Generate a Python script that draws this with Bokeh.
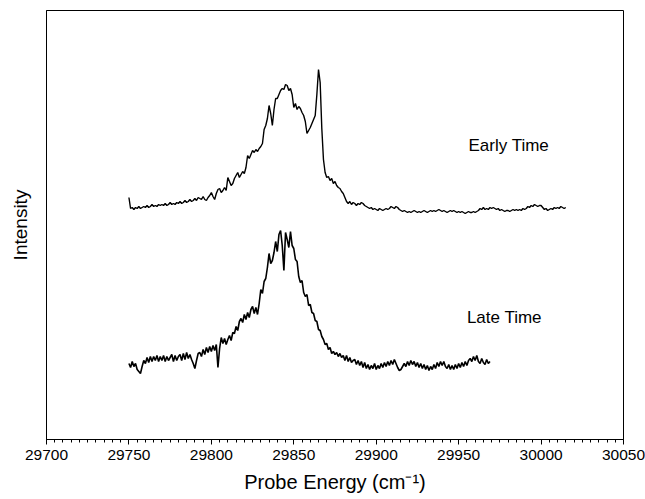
import numpy as np
from bokeh.plotting import figure
from bokeh.models import Range1d, FixedTicker, Label
from bokeh.embed import file_html
from bokeh.resources import INLINE

early_x_start, early_step = 29750, 1
late_x_start, late_step = 29750, 1

early_intensity = [
    242, 231, 232, 230, 232, 231, 233, 231, 232, 233,
    232, 234, 232, 233, 235, 233, 234, 233, 235, 234,
    235, 234, 236, 234, 235, 237, 235, 236, 235, 237,
    236, 238, 236, 237, 239, 237, 238, 240, 238, 239,
    241, 239, 242, 241, 240, 243, 240, 239, 242, 244,
    247, 243, 240, 246, 250, 251, 247, 249, 252, 249,
    262, 258, 254, 256, 261, 264, 267, 262, 265, 268,
    266, 272, 284, 281, 285, 289, 287, 290, 288, 291,
    293, 296, 310, 314, 321, 334, 326, 314, 330, 341,
    341, 345, 349, 351, 350, 355, 354, 349, 351, 345,
    332, 336, 330, 333, 331, 327, 324, 318, 306, 309,
    312, 316, 320, 324, 345, 370, 357, 311, 280, 267,
    262, 263, 259, 261, 256, 258, 254, 252, 251, 248,
    246, 242, 238, 236, 238, 235, 237, 236, 234, 236,
    235, 237, 236, 234, 233, 232, 231, 232, 230, 231,
    230, 229, 231, 230, 229, 230, 231, 230, 231, 233,
    232, 231, 233, 232, 230, 229, 228, 229, 228, 227,
    228, 227, 228, 229, 228, 227, 228, 227, 228, 229,
    228, 227, 228, 229, 228, 229, 228, 229, 230, 229,
    228, 229, 228, 227, 228, 229, 228, 229, 228, 227,
    228, 227, 228, 227, 226, 227, 228, 227, 227, 228,
    227, 228, 229, 231, 230, 232, 230, 231, 230, 232,
    231, 232, 231, 230, 231, 229, 230, 229, 228, 229,
    229, 228, 229, 230, 229, 230, 229, 230, 229, 231,
    230, 231, 233, 232, 234, 233, 235, 234, 233, 234,
    234, 232, 230, 231, 229, 230, 231, 230, 232, 231,
    232, 231, 233, 232, 231, 232,
]

late_intensity = [
    76, 72, 78, 73, 76, 70, 68, 66, 73, 79,
    76, 82, 77, 83, 78, 83, 79, 84, 78, 83,
    79, 84, 78, 83, 79, 82, 85, 78, 84, 79,
    83, 85, 79, 86, 80, 87, 81, 85, 80, 76,
    71, 79, 86, 87, 83, 90, 85, 92, 87, 93,
    88, 94, 89, 95, 72, 91, 102, 96, 101, 95,
    100, 104, 99, 107, 106, 113, 109, 118, 121, 117,
    125, 120, 127, 122, 130, 133, 126, 132, 125, 136,
    150, 146, 158, 161, 172, 186, 176, 179, 187, 198,
    188, 205, 209, 194, 169, 207, 200, 192, 208, 194,
    191, 180, 178, 163, 157, 159, 147, 143, 145, 134,
    135, 127, 126, 119, 118, 110, 109, 103, 100, 95,
    96, 90, 92, 86, 88, 85, 87, 83, 86, 82,
    84, 79, 84, 78, 82, 77, 79, 80, 75, 79,
    74, 78, 72, 77, 71, 75, 70, 74, 71, 76,
    70, 74, 71, 76, 72, 77, 73, 78, 74, 79,
    75, 80, 76, 72, 69, 70, 73, 76, 73, 78,
    74, 79, 75, 78, 73, 77, 72, 76, 71, 75,
    70, 74, 69, 73, 70, 75, 71, 77, 73, 78,
    74, 78, 73, 71, 75, 70, 74, 70, 75, 71,
    76, 72, 77, 73, 78, 74, 79, 81, 78, 83,
    79, 84, 78, 76, 81, 77, 75, 80, 76, 78,
]

x_ticks = [29700, 29750, 29800, 29850, 29900, 29950, 30000, 30050]
series_labels = ["Early Time", "Late Time"]
label_x = [29956, 29955]
label_y = [294, 122]

early_x = early_x_start + early_step * np.arange(len(early_intensity))
late_x = late_x_start + late_step * np.arange(len(late_intensity))

p = figure(width=645, height=499, output_backend="svg", toolbar_location=None,
           x_range=Range1d(29700, 30050), y_range=Range1d(0, 429),
           min_border_left=46, min_border_right=22, min_border_top=10,
           min_border_bottom=60)
p.background_fill_color = "white"
p.border_fill_color = "white"
p.outline_line_color = "black"
p.outline_line_width = 1
p.grid.visible = False

p.line(early_x, early_intensity, line_color="black", line_width=1.4)
p.line(late_x, late_intensity, line_color="black", line_width=1.6)

for t, lx, ly in zip(series_labels, label_x, label_y):
    p.add_layout(Label(x=lx, y=ly, text=t, text_align="left", text_baseline="middle",
                       text_font="Liberation Sans", text_font_size="17px",
                       text_color="black"))

xa = p.xaxis[0]
xa.ticker = FixedTicker(ticks=x_ticks,
                        minor_ticks=list(range(29700, 30051, 5)))
xa.axis_label = "Probe Energy (cm\u207b\u00b9)"
xa.axis_label_text_font = "Liberation Sans"
xa.axis_label_text_font_style = "normal"
xa.axis_label_text_font_size = "20px"
xa.axis_label_text_color = "black"
xa.axis_label_standoff = 8
xa.major_label_text_font = "Liberation Sans"
xa.major_label_text_font_size = "15.5px"
xa.major_label_text_color = "black"
xa.major_label_standoff = 5
xa.major_tick_in = 0
xa.major_tick_out = 5
xa.minor_tick_in = 0
xa.minor_tick_out = 3
xa.axis_line_color = "black"
xa.major_tick_line_color = "black"
xa.minor_tick_line_color = "black"

ya = p.yaxis[0]
ya.ticker = FixedTicker(ticks=[])
ya.axis_label = "Intensity"
ya.axis_label_text_font = "Liberation Sans"
ya.axis_label_text_font_style = "normal"
ya.axis_label_text_font_size = "19px"
ya.axis_label_text_color = "black"
ya.axis_label_standoff = 16
ya.major_tick_line_color = None
ya.minor_tick_line_color = None
ya.axis_line_color = "black"

open("out.html", "w").write(file_html(p, INLINE))
